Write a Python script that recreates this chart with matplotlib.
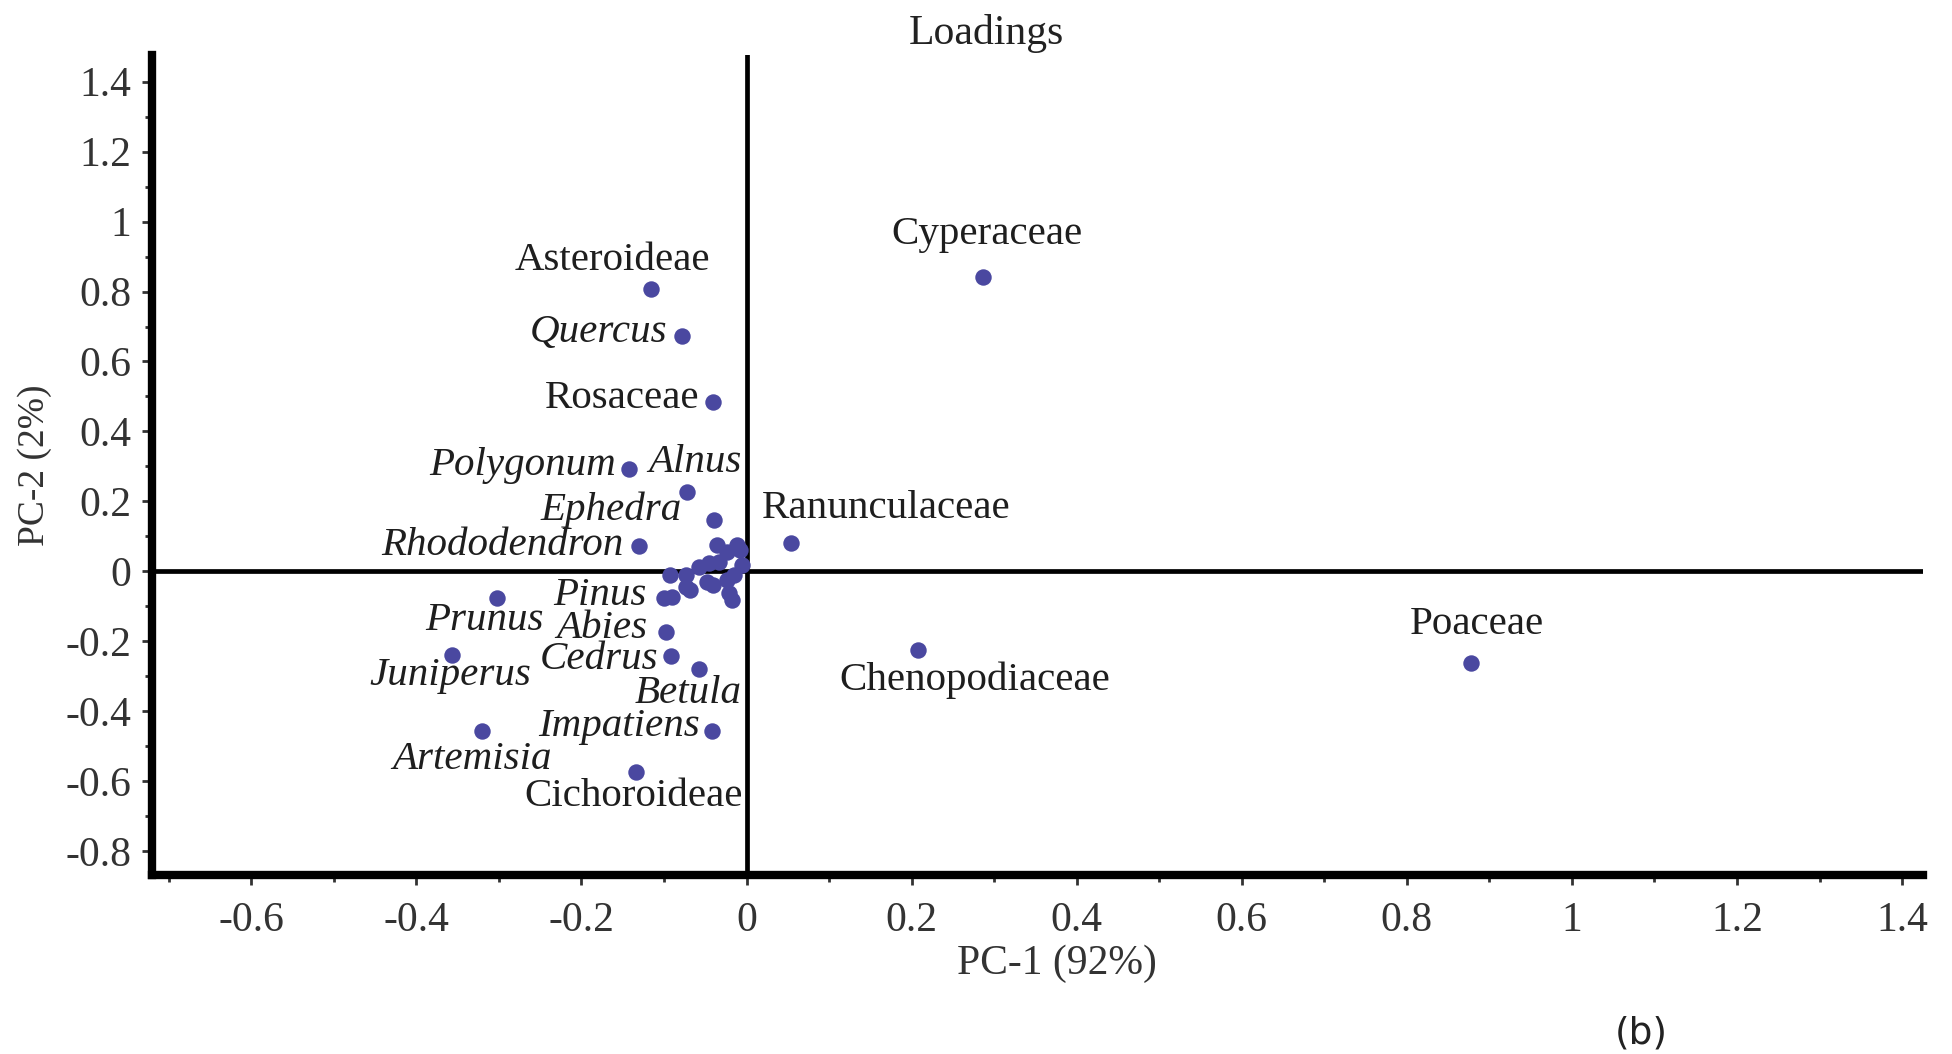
import numpy as np
import matplotlib.pyplot as plt
from matplotlib.ticker import MultipleLocator, FuncFormatter

plt.rcParams['font.family'] = ['Liberation Serif', 'DejaVu Serif']
plt.rcParams['axes.unicode_minus'] = False

# labelled loadings
taxa = ['Cyperaceae', 'Asteroideae', 'Quercus', 'Rosaceae', 'Polygonum', 'Alnus',
        'Ephedra', 'Rhododendron', 'Ranunculaceae', 'Chenopodiaceae', 'Poaceae',
        'Prunus', 'Juniperus', 'Artemisia', 'Pinus', 'Abies', 'Cedrus', 'Betula',
        'Impatiens', 'Cichoroideae']
pc1 = [0.287, -0.116, -0.078, -0.041, -0.142, -0.072, -0.039, -0.130, 0.054, 0.208,
       0.878, -0.302, -0.357, -0.321, -0.100, -0.097, -0.092, -0.057, -0.042, -0.134]
pc2 = [0.843, 0.808, 0.673, 0.484, 0.292, 0.228, 0.146, 0.071, 0.082, -0.224,
       -0.263, -0.075, -0.238, -0.456, -0.075, -0.174, -0.242, -0.278, -0.456, -0.573]
italic = [False, False, True, False, True, True, True, True, False, False,
          False, True, True, True, True, True, True, True, True, False]

# unlabelled taxa near the origin
pc1_small = [-0.036, -0.012, -0.008, -0.024, -0.057, -0.045, -0.033, -0.093, -0.073,
             -0.090, -0.073, -0.069, -0.048, -0.041, -0.024, -0.021, -0.018, -0.015, -0.006]
pc2_small = [0.076, 0.076, 0.061, 0.056, 0.013, 0.024, 0.027, -0.010, -0.010,
             -0.073, -0.044, -0.053, -0.030, -0.038, -0.024, -0.061, -0.081, -0.010, 0.019]

# where each name is written
label_x = [0.291, -0.163, -0.179, -0.151, -0.271, -0.063, -0.164, -0.296, 0.169, 0.276,
           0.885, -0.317, -0.359, -0.333, -0.178, -0.175, -0.179, -0.071, -0.155, -0.137]
label_y = [0.964, 0.890, 0.683, 0.495, 0.302, 0.310, 0.174, 0.074, 0.181, -0.313,
           -0.153, -0.142, -0.299, -0.537, -0.068, -0.164, -0.253, -0.349, -0.445, -0.644]

dot = '#4a48a0'

fig = plt.figure(figsize=(19.52, 10.54), dpi=100)
ax = fig.add_axes([0.078, 0.170, 0.907, 0.778])

ax.axhline(0, color='black', lw=3.4, zorder=1)
ax.axvline(0, color='black', lw=3.4, zorder=1)
ax.scatter(pc1, pc2, s=140, color=dot, zorder=3, linewidths=0)
ax.scatter(pc1_small, pc2_small, s=140, color=dot, zorder=3, linewidths=0)

for name, x, y, it in zip(taxa, label_x, label_y, italic):
    ax.text(x, y, name, ha='center', va='center', fontsize=29.5,
            style='italic' if it else 'normal', color='#1e1e1e', zorder=4)

ax.set_xlim(-0.72, 1.425)
ax.set_ylim(-0.868, 1.477)

for s in ['top', 'right']:
    ax.spines[s].set_visible(False)
for s in ['left', 'bottom']:
    ax.spines[s].set_linewidth(6)

ax.xaxis.set_major_locator(MultipleLocator(0.2))
ax.xaxis.set_minor_locator(MultipleLocator(0.1))
ax.yaxis.set_major_locator(MultipleLocator(0.2))
ax.yaxis.set_minor_locator(MultipleLocator(0.1))
fmt = FuncFormatter(lambda v, p: '0' if abs(v) < 1e-9 else '%g' % round(v, 2))
ax.xaxis.set_major_formatter(fmt)
ax.yaxis.set_major_formatter(fmt)
ax.tick_params(which='major', length=7, width=2, labelsize=30, color='#333333')
ax.tick_params(which='minor', length=5, width=2, color='#333333')
ax.tick_params(axis='x', which='major', pad=12)
ax.tick_params(axis='y', which='major', pad=8)
for lab in ax.get_xticklabels() + ax.get_yticklabels():
    lab.set_color('#333333')

ax.text(0.471, 1.026, 'Loadings', transform=ax.transAxes, ha='center', va='center',
        fontsize=30, color='#222222')
ax.set_xlabel('PC-1 (92%)', fontsize=30, color='#333333')
ax.xaxis.set_label_coords(0.511, -0.085)
ax.set_ylabel('PC-2 (2%)', fontsize=27, labelpad=10, color='#333333')

fig.text(0.827, 0.01, '(b)', fontsize=27, family='DejaVu Sans', color='#222222')

fig.savefig('out.png', dpi=100)
